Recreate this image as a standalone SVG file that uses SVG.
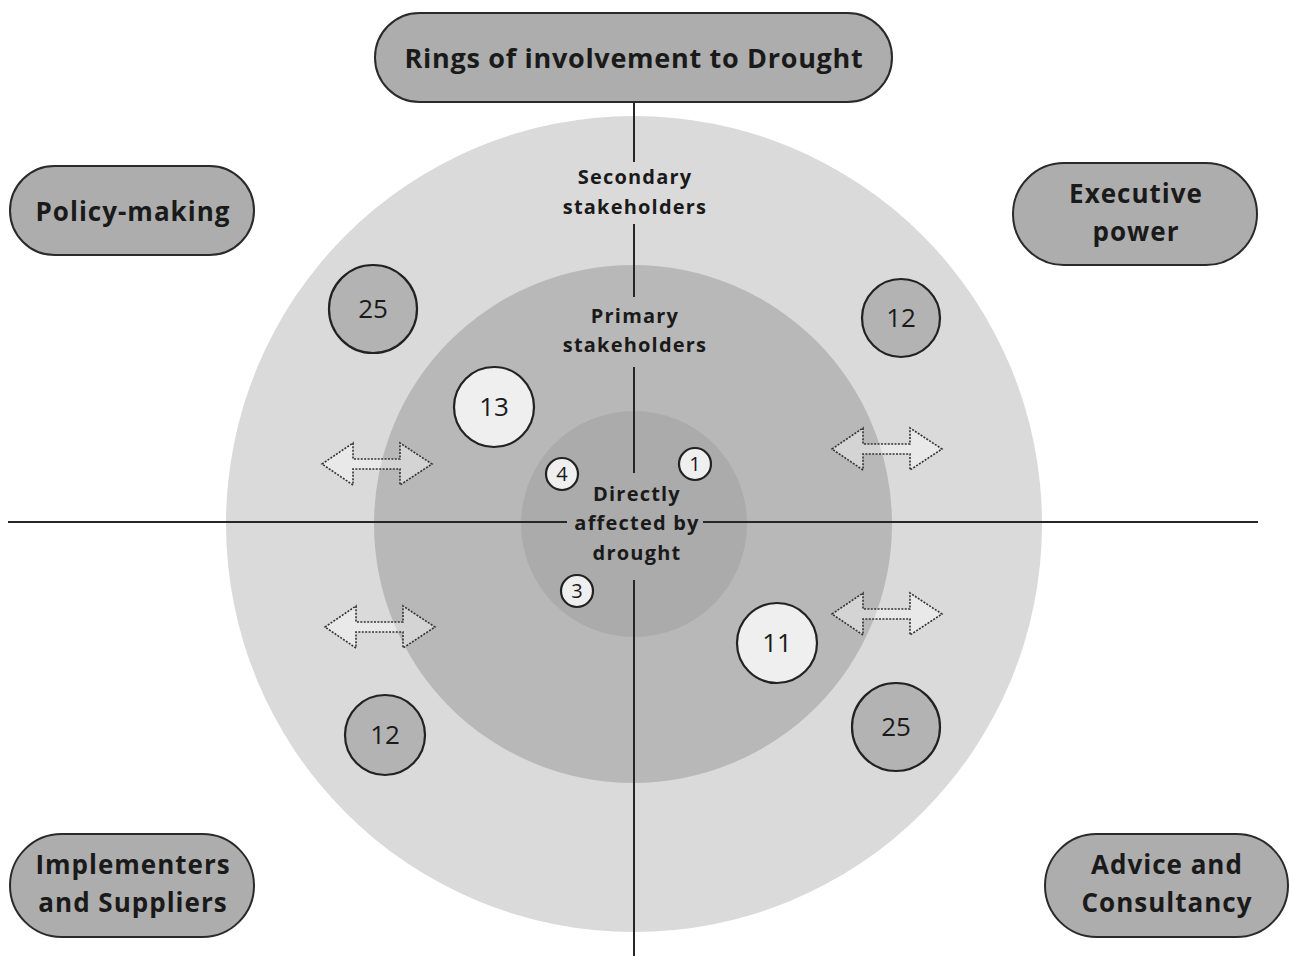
<svg xmlns="http://www.w3.org/2000/svg" width="1290" height="956" viewBox="0 0 1290 956">
  <defs>
    <style>
      .lbl { font-family: "Open Sans", "Liberation Sans", sans-serif; font-weight: 700; fill: #1a1a1a; text-anchor: middle; }
      .node-lbl { letter-spacing: 1px; }
      .ring-lbl { letter-spacing: 1.2px; }
      .num { font-family: "Open Sans", "Liberation Sans", sans-serif; font-weight: 400; fill: #1a1a1a; text-anchor: middle; }
      .pill { fill: #adadad; stroke: #2a2a2a; stroke-width: 2; }
      .grey { fill: #b3b3b3; stroke: #222; stroke-width: 2.2; }
      .white { fill: #efefef; stroke: #222; stroke-width: 2.2; }
      .axis { stroke: #262626; stroke-width: 2; fill: none; }
      .dbl { fill: #ffffff; fill-opacity: 0.4; stroke: #333; stroke-width: 1.6; stroke-dasharray: 2 1.4; }
    </style>
    <path id="double-arrow" d="M-55,0 L-24,-21 L-24,-5 L23,-5 L23,-21 L55,0 L23,21 L23,5 L-24,5 L-24,21 Z"/>
  </defs>

  <rect width="1290" height="956" fill="#ffffff"/>

  <!-- concentric rings -->
  <g id="rings">
    <circle cx="634" cy="524" r="408" fill="#dadada"/>
    <circle cx="633" cy="524" r="259" fill="#b8b8b8"/>
    <circle cx="634" cy="524" r="113" fill="#ababab"/>
  </g>

  <!-- axes -->
  <g id="connectors">
    <line class="axis" x1="8" y1="522" x2="567" y2="522"/>
    <line class="axis" x1="703" y1="522" x2="1258" y2="522"/>
    <line class="axis" x1="634" y1="102" x2="634" y2="162"/>
    <line class="axis" x1="634" y1="224" x2="634" y2="297"/>
    <line class="axis" x1="634" y1="367" x2="634" y2="473"/>
    <line class="axis" x1="634" y1="580" x2="634" y2="956"/>
  </g>

  <!-- ring labels -->
  <g id="ring-labels">
    <text class="lbl ring-lbl" x="635" y="184" font-size="20">Secondary</text>
    <text class="lbl ring-lbl" x="635" y="214" font-size="20">stakeholders</text>
    <text class="lbl ring-lbl" x="635" y="323" font-size="20">Primary</text>
    <text class="lbl ring-lbl" x="635" y="352" font-size="20">stakeholders</text>
    <text class="lbl ring-lbl" x="637" y="501" font-size="20">Directly</text>
    <text class="lbl ring-lbl" x="637" y="530" font-size="20">affected by</text>
    <text class="lbl ring-lbl" x="637" y="560" font-size="20">drought</text>
  </g>

  <!-- title -->
  <g id="title">
    <rect class="pill" x="375" y="13" width="517" height="89" rx="44.5"/>
    <text class="lbl" x="634" y="68" font-size="27" letter-spacing="0.7">Rings of involvement to Drought</text>
  </g>

  <!-- quadrant nodes -->
  <g id="policy-making">
    <rect class="pill" x="10" y="166" width="244" height="89" rx="44.5"/>
    <text class="lbl node-lbl" x="133" y="221" font-size="26">Policy-making</text>
  </g>
  <g id="executive-power">
    <rect class="pill" x="1013" y="163" width="244" height="102" rx="51"/>
    <text class="lbl node-lbl" x="1136" y="203" font-size="26">Executive</text>
    <text class="lbl node-lbl" x="1136" y="241" font-size="26">power</text>
  </g>
  <g id="implementers">
    <rect class="pill" x="10" y="834" width="244" height="103" rx="51.5"/>
    <text class="lbl node-lbl" x="133" y="874" font-size="26">Implementers</text>
    <text class="lbl node-lbl" x="133" y="912" font-size="26">and Suppliers</text>
  </g>
  <g id="advice">
    <rect class="pill" x="1045" y="834" width="243" height="103" rx="51.5"/>
    <text class="lbl node-lbl" x="1167" y="874" font-size="26">Advice and</text>
    <text class="lbl node-lbl" x="1167" y="912" font-size="26">Consultancy</text>
  </g>

  <!-- stakeholder counts -->
  <g id="count-25-policy">
    <circle class="grey" cx="373" cy="309" r="44"/>
    <text class="num" x="373" y="318" font-size="26">25</text>
  </g>
  <g id="count-12-executive">
    <circle class="grey" cx="901" cy="318" r="39"/>
    <text class="num" x="901" y="327" font-size="26">12</text>
  </g>
  <g id="count-12-implementers">
    <circle class="grey" cx="385" cy="735" r="40"/>
    <text class="num" x="385" y="744" font-size="26">12</text>
  </g>
  <g id="count-25-advice">
    <circle class="grey" cx="896" cy="727" r="44"/>
    <text class="num" x="896" y="736" font-size="26">25</text>
  </g>
  <g id="count-13-policy">
    <circle class="white" cx="494" cy="407" r="40"/>
    <text class="num" x="494" y="416" font-size="26">13</text>
  </g>
  <g id="count-11-advice">
    <circle class="white" cx="777" cy="643" r="40"/>
    <text class="num" x="777" y="652" font-size="26">11</text>
  </g>
  <g id="count-1-executive">
    <circle class="white" cx="695" cy="464" r="16"/>
    <text class="num" x="695" y="471" font-size="20">1</text>
  </g>
  <g id="count-4-policy">
    <circle class="white" cx="562" cy="474" r="16"/>
    <text class="num" x="562" y="481" font-size="20">4</text>
  </g>
  <g id="count-3-implementers">
    <circle class="white" cx="577" cy="591" r="16"/>
    <text class="num" x="577" y="598" font-size="20">3</text>
  </g>

  <!-- two-way movement between rings -->
  <g id="arrows">
    <use href="#double-arrow" class="dbl" transform="translate(377,464)"/>
    <use href="#double-arrow" class="dbl" transform="translate(887,449)"/>
    <use href="#double-arrow" class="dbl" transform="translate(380,627)"/>
    <use href="#double-arrow" class="dbl" transform="translate(887,614)"/>
  </g>
</svg>
